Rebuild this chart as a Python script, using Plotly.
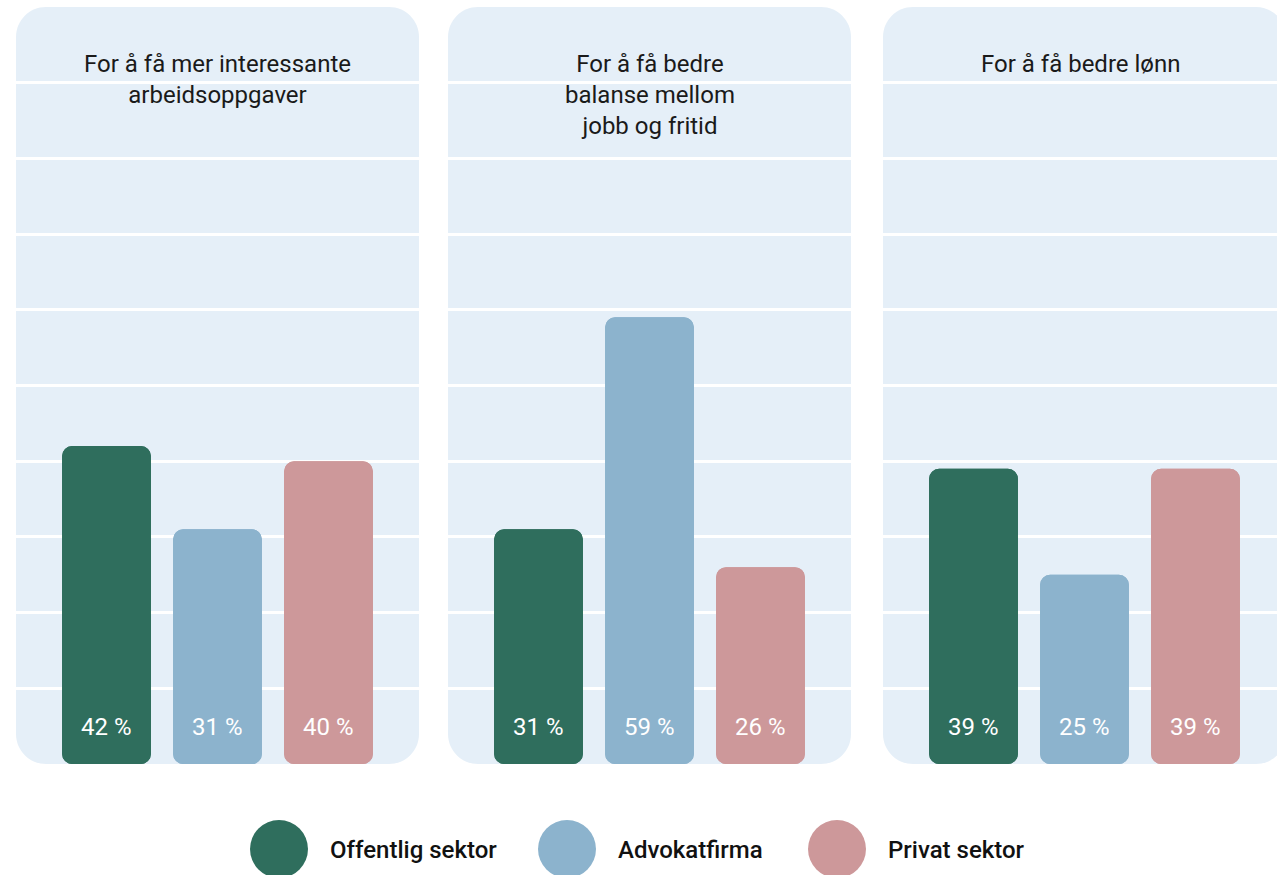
import plotly.graph_objects as go

# Survey: reasons for changing jobs, by sector (share in %)
questions = [
    "For å få mer interessante<br>arbeidsoppgaver",
    "For å få bedre<br>balanse mellom<br>jobb og fritid",
    "For å få bedre lønn",
]
sectors = ["Offentlig sektor", "Advokatfirma", "Privat sektor"]
offentlig = [42, 31, 39]
advokatfirma = [31, 59, 25]
privat = [40, 26, 39]
grid_ticks = [10, 20, 30, 40, 50, 60, 70, 80, 90]

colors = ["#2F6E5D", "#8CB3CD", "#CD989A"]
panel_bg = "#E5EFF8"
font_family = "Roboto, 'Open Sans', sans-serif"

W, H = 1277, 875
top_px, bottom_px = 7, 764
panels_px = [(16, 419), (448, 851), (883, 1286)]  # last panel runs past the right edge
slot_px = 111.0  # pixels per category slot

fig = go.Figure()

values_by_panel = [[offentlig[i], advokatfirma[i], privat[i]] for i in range(len(questions))]

for p, vals in enumerate(values_by_panel):
    ax = "" if p == 0 else str(p + 1)
    # upper half rounded at the top, lower half rounded at the bottom
    fig.add_trace(go.Bar(
        x=sectors, y=vals, base=0, width=0.8,
        marker=dict(color=colors, cornerradius=10, line=dict(width=0)),
        xaxis="x" + ax, yaxis="y" + ax, showlegend=False, hoverinfo="skip",
    ))
    fig.add_trace(go.Bar(
        x=sectors, y=[-v for v in vals], base=vals, width=0.8,
        marker=dict(color=colors, cornerradius=10, line=dict(width=0)),
        xaxis="x" + ax, yaxis="y" + ax, showlegend=False, hoverinfo="skip",
    ))
    for s, v in zip(sectors, vals):
        fig.add_annotation(
            x=s, y=0, xref="x" + ax, yref="y" + ax, text=f"{v} %",
            showarrow=False, yanchor="middle", yshift=37,
            font=dict(family=font_family, size=24, color="white"),
        )

    x0, x1 = panels_px[p]
    dom_x1 = min(x1, W)
    width_units = (dom_x1 - x0) / slot_px
    full_units = (x1 - x0) / slot_px
    left = 1 - full_units / 2
    fig.update_layout(**{
        "xaxis" + ax: dict(
            domain=[x0 / W, dom_x1 / W], range=[left, left + width_units],
            showticklabels=False, showgrid=False, zeroline=False, showline=False,
            anchor="y" + ax, fixedrange=True,
        ),
        "yaxis" + ax: dict(
            domain=[1 - bottom_px / H, 1 - top_px / H], range=[0, 100],
            tickvals=grid_ticks, showticklabels=False, showgrid=True,
            gridcolor="white", gridwidth=2.5, zeroline=False, showline=False,
            anchor="x" + ax, fixedrange=True,
        ),
    })

    # rounded panel background
    r = 30
    k = 0.5523
    px = lambda v: v / W
    py = lambda v: 1 - v / H
    t, b = top_px, bottom_px
    path = (
        f"M {px(x0 + r)},{py(t)} L {px(x1 - r)},{py(t)} "
        f"C {px(x1 - r + k * r)},{py(t)} {px(x1)},{py(t + r - k * r)} {px(x1)},{py(t + r)} "
        f"L {px(x1)},{py(b - r)} "
        f"C {px(x1)},{py(b - r + k * r)} {px(x1 - r + k * r)},{py(b)} {px(x1 - r)},{py(b)} "
        f"L {px(x0 + r)},{py(b)} "
        f"C {px(x0 + r - k * r)},{py(b)} {px(x0)},{py(b - r + k * r)} {px(x0)},{py(b - r)} "
        f"L {px(x0)},{py(t + r)} "
        f"C {px(x0)},{py(t + r - k * r)} {px(x0 + r - k * r)},{py(t)} {px(x0 + r)},{py(t)} Z"
    )
    fig.add_shape(type="path", path=path, xref="paper", yref="paper",
                  fillcolor=panel_bg, line=dict(width=0), layer="below")

    # panel title
    fig.add_annotation(
        x=0.5, y=1, xref=f"x{ax} domain", yref=f"y{ax} domain",
        text=questions[p], showarrow=False, xanchor="center", yanchor="top",
        yshift=-41, align="center",
        font=dict(family=font_family, size=24, color="#1A1A1A"),
    )

# legend: large circles with labels
legend_cx = [279, 567, 837]
legend_tx = [328, 616, 886]
legend_cy = 849
for name, c, cx, tx in zip(sectors, colors, legend_cx, legend_tx):
    fig.add_shape(
        type="circle", xref="paper", yref="paper",
        xsizemode="pixel", ysizemode="pixel",
        xanchor=cx / W, yanchor=1 - legend_cy / H,
        x0=-29, x1=29, y0=-29, y1=29,
        fillcolor=c, line=dict(width=0),
    )
    fig.add_annotation(
        x=tx / W, y=1 - (legend_cy + 1) / H, xref="paper", yref="paper",
        text=name, showarrow=False, xanchor="left", yanchor="middle",
        font=dict(family=font_family, size=24, color="#111111", weight=500),
    )

fig.update_layout(
    width=W, height=H,
    margin=dict(l=0, r=0, t=0, b=0),
    paper_bgcolor="white", plot_bgcolor="rgba(0,0,0,0)",
    barmode="overlay", bargap=0.2,
    showlegend=False,
    font=dict(family=font_family),
)

fig.write_html("out.html")
